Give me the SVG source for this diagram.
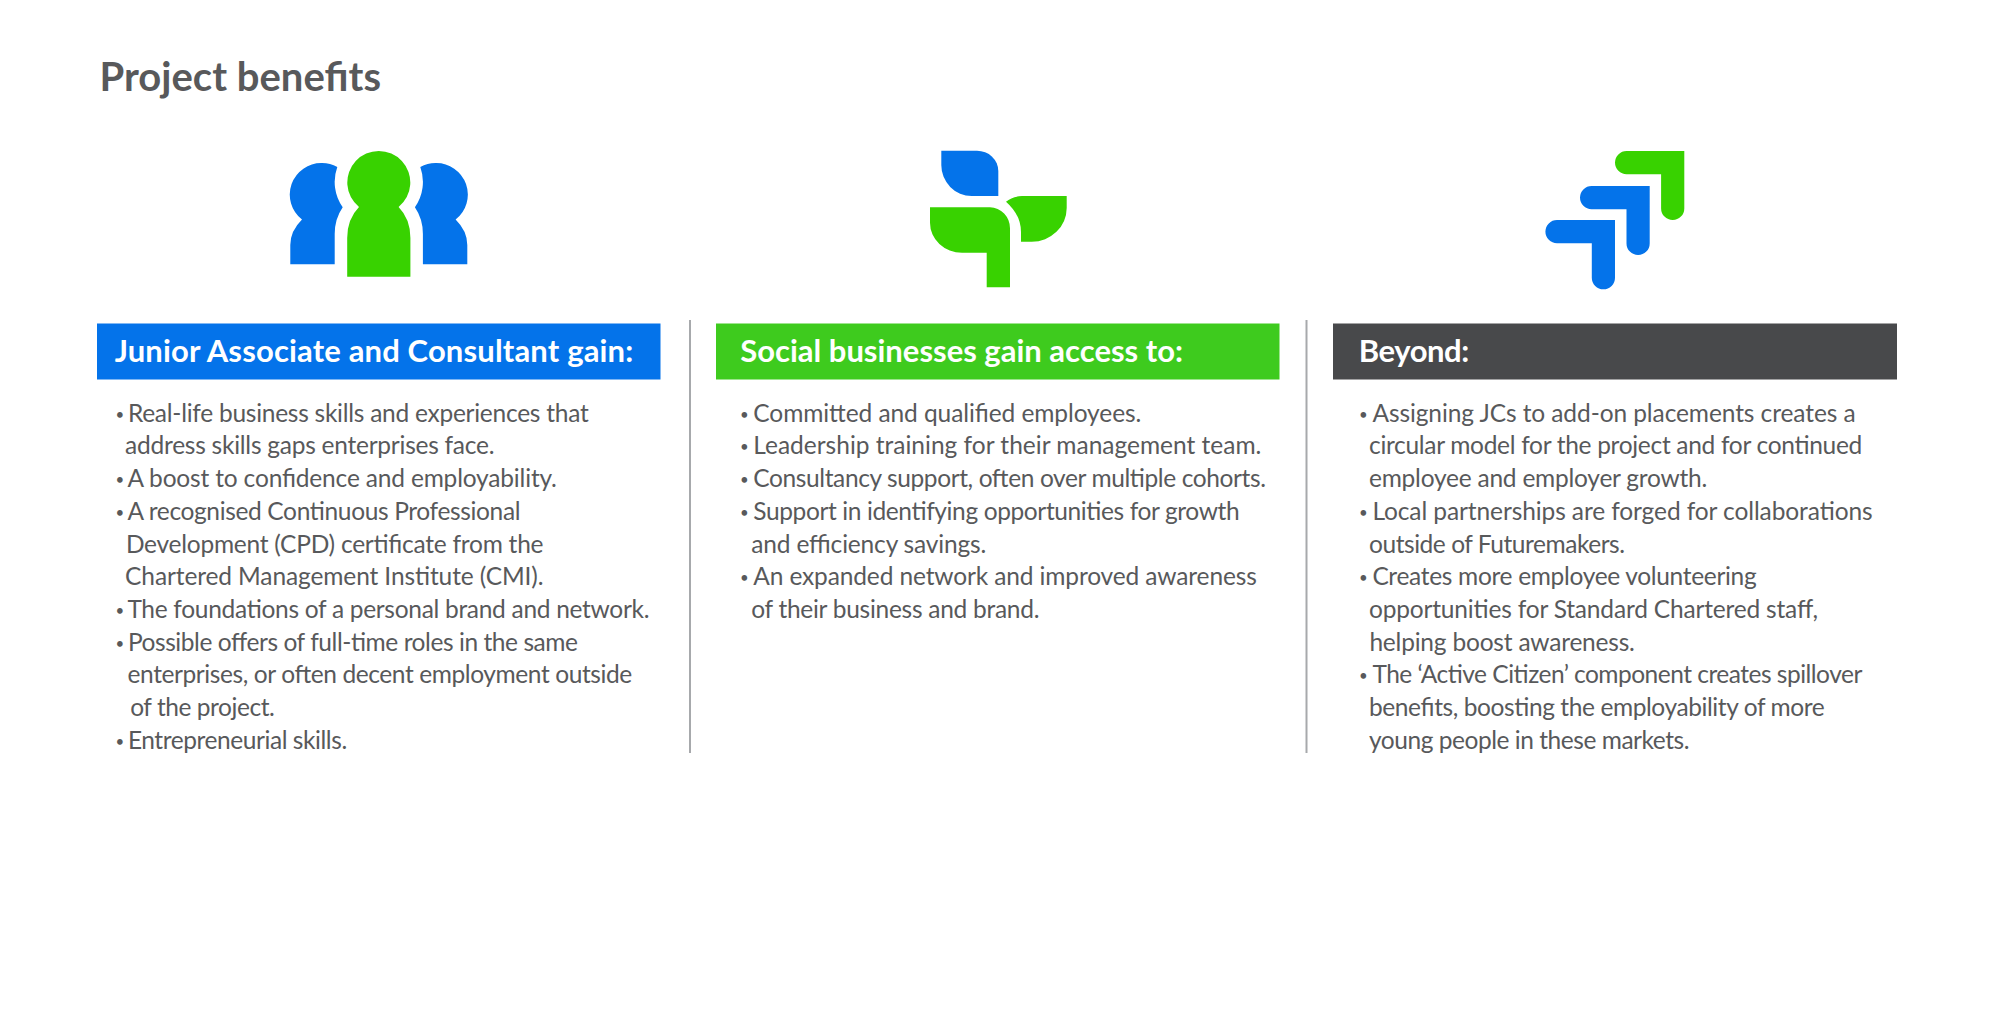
<svg xmlns="http://www.w3.org/2000/svg" width="2000" height="1020" viewBox="0 0 2000 1020">
<style>
text{font-family:"Lato","Noto Sans",sans-serif}
.t{font-size:40px;font-weight:700;fill:#58595b}
.h{font-size:31px;font-weight:700;fill:#fff}
.b{font-size:24.5px;font-weight:400;fill:#58595b}
.d{font-size:15px;baseline-shift:2px}
.blue{fill:#0473ea}.green{fill:#38d200}
.arrow{fill:none;stroke-width:23.2;stroke-linecap:round;stroke-linejoin:miter}
.rule{stroke:#a7a9ac;stroke-width:2}
</style>
<rect width="2000" height="1020" fill="#fff"/>
<text id="title" class="t" x="99.500" y="91" textLength="281.500">Project benefits</text>
<g id="connectors">
<line class="rule" x1="690" y1="320" x2="690" y2="753"/>
<line class="rule" x1="1306.500" y1="320" x2="1306.500" y2="753"/>
</g>
<g id="icon-people">
<path class="blue" d="M290.300 264.300V245Q290.300 231 302 219.500A31.500 31.500 0 0 1 322 163.100A31.500 31.500 0 0 1 337.300 167A44 44 0 0 0 342.700 207.300Q334.700 219 334.700 234V264.300Z"/>
<path class="blue" transform="translate(757.600) scale(-1,1)" d="M290.300 264.300V245Q290.300 231 302 219.500A31.500 31.500 0 0 1 322 163.100A31.500 31.500 0 0 1 337.300 167A44 44 0 0 0 342.700 207.300Q334.700 219 334.700 234V264.300Z"/>
<path class="green" d="M347.200 276.700V238Q347.200 219 359 207A31.500 31.500 0 1 1 398.600 207Q410.400 219 410.400 238V276.700Z"/>
</g>
<g id="icon-plant">
<path class="blue" d="M941.300 150.700H977A21.300 20.300 0 0 1 998.300 171V196H971.700A30.400 31 0 0 1 941.300 165Z"/>
<path class="green" d="M930 207.300H990A20 21 0 0 1 1010 228.300V287.300H986.700V252.700H962A32 30 0 0 1 930 222.700Z"/>
<path class="green" d="M1066.700 196V208A35 33.700 0 0 1 1031.700 241.700H1021V232Q1021 215 1006 201.700Q1012 196.500 1022 196Z"/>
</g>
<g id="icon-arrows">
<path class="arrow" stroke="#38d200" d="M1626.600 162.600H1672.700V208.400"/>
<path class="arrow" stroke="#0473ea" d="M1591.600 197.600H1638.100V243.400"/>
<path class="arrow" stroke="#0473ea" d="M1557 231.600H1603.400V277.700"/>
</g>
<g id="card-consultants">
<rect x="97" y="323.500" width="563.500" height="56" fill="#0473ea"/>
<text class="h" x="114.700" y="362" textLength="518.500">Junior Associate and Consultant gain:</text>
<g class="list">
<text class="b" y="421.700"><tspan class="d" x="115.500">• </tspan><tspan x="127.900" textLength="460.800">Real-life business skills and experiences that</tspan></text>
<text class="b" x="125.100" y="454.400" textLength="369.400">address skills gaps enterprises face.</text>
<text class="b" y="487.100"><tspan class="d" x="115.500">• </tspan><tspan x="127.400" textLength="429.500">A boost to confidence and employability.</tspan></text>
<text class="b" y="519.800"><tspan class="d" x="115.500">• </tspan><tspan x="127.400" textLength="393.100">A recognised Continuous Professional</tspan></text>
<text class="b" x="125.900" y="552.500" textLength="417.600">Development (CPD) certificate from the</text>
<text class="b" x="125.100" y="585.200" textLength="418.400">Chartered Management Institute (CMI).</text>
<text class="b" y="617.900"><tspan class="d" x="115.500">• </tspan><tspan x="127.400" textLength="522.100">The foundations of a personal brand and network.</tspan></text>
<text class="b" y="650.600"><tspan class="d" x="115.500">• </tspan><tspan x="127.900" textLength="450.100">Possible offers of full-time roles in the same</tspan></text>
<text class="b" x="127.500" y="683.300" textLength="504.800">enterprises, or often decent employment outside</text>
<text class="b" x="130.200" y="716" textLength="144.600">of the project.</text>
<text class="b" y="748.700"><tspan class="d" x="115.500">• </tspan><tspan x="127.900" textLength="219.300">Entrepreneurial skills.</tspan></text>
</g>
</g>
<g id="card-businesses">
<rect x="716" y="323.500" width="563.500" height="56" fill="#3ecb1e"/>
<text class="h" x="740.200" y="362" textLength="442.800">Social businesses gain access to:</text>
<g class="list">
<text class="b" y="421.700"><tspan class="d" x="740">• </tspan><tspan x="753.300" textLength="388">Committed and qualified employees.</tspan></text>
<text class="b" y="454.400"><tspan class="d" x="740">• </tspan><tspan x="753.300" textLength="508.100">Leadership training for their management team.</tspan></text>
<text class="b" y="487.100"><tspan class="d" x="740">• </tspan><tspan x="753.300" textLength="512.700">Consultancy support, often over multiple cohorts.</tspan></text>
<text class="b" y="519.800"><tspan class="d" x="740">• </tspan><tspan x="753.300" textLength="486.300">Support in identifying opportunities for growth</tspan></text>
<text class="b" x="751.200" y="552.500" textLength="235.100">and efficiency savings.</text>
<text class="b" y="585.200"><tspan class="d" x="740">• </tspan><tspan x="753.300" textLength="503.500">An expanded network and improved awareness</tspan></text>
<text class="b" x="751.200" y="617.900" textLength="288.300">of their business and brand.</text>
</g>
</g>
<g id="card-beyond">
<rect x="1333" y="323.500" width="564" height="56" fill="#48494b"/>
<text class="h" x="1358.800" y="362" textLength="110.400">Beyond:</text>
<g class="list">
<text class="b" y="421.700"><tspan class="d" x="1359">• </tspan><tspan x="1372.400" textLength="483.200">Assigning JCs to add-on placements creates a</tspan></text>
<text class="b" x="1369" y="454.400" textLength="493.300">circular model for the project and for continued</text>
<text class="b" x="1369" y="487.100" textLength="338.300">employee and employer growth.</text>
<text class="b" y="519.800"><tspan class="d" x="1359">• </tspan><tspan x="1372.400" textLength="500.200">Local partnerships are forged for collaborations</tspan></text>
<text class="b" x="1369" y="552.500" textLength="256">outside of Futuremakers.</text>
<text class="b" y="585.200"><tspan class="d" x="1359">• </tspan><tspan x="1372.400" textLength="384.300">Creates more employee volunteering</tspan></text>
<text class="b" x="1369" y="617.900" textLength="449">opportunities for Standard Chartered staff,</text>
<text class="b" x="1369.400" y="650.600" textLength="265.500">helping boost awareness.</text>
<text class="b" y="683.300"><tspan class="d" x="1359">• </tspan><tspan x="1372.400" textLength="489.900">The ‘Active Citizen’ component creates spillover</tspan></text>
<text class="b" x="1369" y="716" textLength="455.700">benefits, boosting the employability of more</text>
<text class="b" x="1369" y="748.700" textLength="320.500">young people in these markets.</text>
</g>
</g>
</svg>
